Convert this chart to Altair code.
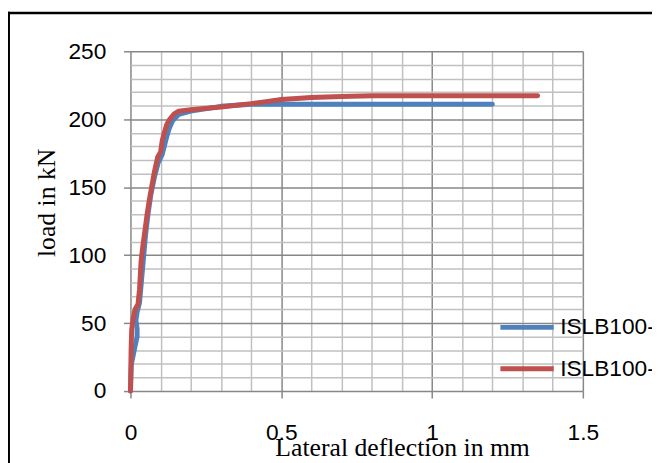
import altair as alt
import pandas as pd

# ---- data ----
series_names = ["ISLB100-1", "ISLB100-2"]
series_colors = ["#4f81bd", "#c0504d"]

blue_x = [0, 0.003, 0.008, 0.015, 0.022, 0.022, 0.018, 0.022, 0.03, 0.036, 0.042,
          0.05, 0.058, 0.068, 0.08, 0.092, 0.105, 0.112, 0.12, 0.128, 0.14, 0.16,
          0.2, 0.3, 0.4, 0.5, 0.7, 1.0, 1.2]
blue_y = [0, 20, 25, 33, 40, 46, 52, 58, 65, 80, 95,
          115, 130, 145, 158, 168, 174, 180, 187, 193, 199, 203.5,
          206, 209.5, 211, 211, 211, 211, 211]

red_x = [0, 0.002, 0.004, 0.008, 0.015, 0.025, 0.03, 0.035, 0.04, 0.048, 0.055,
         0.062, 0.07, 0.08, 0.09, 0.1, 0.105, 0.112, 0.12, 0.13, 0.145, 0.16,
         0.2, 0.3, 0.4, 0.45, 0.5, 0.6, 0.7, 0.8, 1.0, 1.2, 1.35]
red_y = [0, 30, 45, 52, 60, 64, 75, 95, 105, 118, 130,
         140, 150, 162, 172, 176, 184, 190, 196, 200, 204, 206,
         207, 209, 211.5, 213, 214.5, 216, 216.8, 217.3, 217.3, 217.3, 217.3]

x_grid = [round(i * 0.1, 1) for i in range(16)]
y_grid = list(range(0, 251, 10))

rows = []
for name, xs, ys in [(series_names[0], blue_x, blue_y), (series_names[1], red_x, red_y)]:
    for i, (a, b) in enumerate(zip(xs, ys)):
        rows.append({"series": name, "i": i, "x": a, "y": b})
df = pd.DataFrame(rows)

x_major = "abs(datum.value*2 - round(datum.value*2)) < 0.001"
y_major = "datum.value % 50 == 0"
MAJOR = "#878787"
MINOR = "#c0c0c0"

x_axis = alt.Axis(
    values=x_grid, format="~g",
    title="Lateral deflection in mm",
    titleFont="Liberation Serif", titleFontSize=26, titleFontWeight="normal",
    titleColor="black", titleX=275, titleY=65, titleBaseline="alphabetic",
    titleAlign="center",
    labelFont="Liberation Sans", labelFontSize=23, labelColor="black",
    labelPadding=24, labelExpr=f"({x_major}) ? datum.label : ''",
    labelOverlap=False, labelFlush=False,
    domain=False, tickSize=7, tickWidth=1.5, tickColor=MAJOR,
    tickOpacity={"condition": {"test": x_major, "value": 1}, "value": 0},
    grid=True, gridWidth=1.5,
    gridColor={"condition": {"test": x_major, "value": MAJOR}, "value": MINOR},
)
y_axis = alt.Axis(
    values=y_grid,
    title="load in kN",
    titleFont="Liberation Serif", titleFontSize=26, titleFontWeight="normal",
    titleColor="black", titleX=-77, titleY=153, titleAngle=270,
    titleBaseline="alphabetic", titleAlign="center",
    labelFont="Liberation Sans", labelFontSize=23, labelColor="black",
    labelPadding=18, labelExpr=f"({y_major}) ? datum.label : ''",
    labelOverlap=False, labelFlush=False,
    domain=False, tickSize=7, tickWidth=1.5, tickColor=MAJOR,
    tickOpacity={"condition": {"test": y_major, "value": 1}, "value": 0},
    grid=True, gridWidth=1.5,
    gridColor={"condition": {"test": y_major, "value": MAJOR}, "value": MINOR},
)

lines = alt.Chart(df).mark_line(strokeWidth=5, strokeCap="round", strokeJoin="round").encode(
    x=alt.X("x:Q", scale=alt.Scale(domain=[0, 1.5], nice=False, zero=False), axis=x_axis),
    y=alt.Y("y:Q", scale=alt.Scale(domain=[0, 250], nice=False), axis=y_axis),
    color=alt.Color(
        "series:N",
        scale=alt.Scale(domain=series_names, range=series_colors),
        legend=alt.Legend(
            title=None, orient="none", legendX=372, legendY=250,
            symbolType="stroke", symbolSize=2916, symbolStrokeWidth=5,
            labelFont="Liberation Sans", labelFontSize=23, labelColor="black",
            labelOffset=4, rowPadding=0, padding=0,
        ),
    ),
    order="i:Q",
)

one = pd.DataFrame({"a": [0]})
frame_left = alt.Chart(one).mark_rule(color="black", strokeWidth=4).encode(
    x=alt.value(-124), y=alt.value(-40), y2=alt.value(420)
)
frame_top = alt.Chart(one).mark_rule(color="black", strokeWidth=2.5).encode(
    x=alt.value(-126), x2=alt.value(530), y=alt.value(-38.7)
)

chart = alt.layer(lines, frame_left, frame_top).properties(
    width=458, height=344,
    padding={"left": 124, "top": 41, "right": 70, "bottom": 70},
    autosize=alt.AutoSizeParams(type="none"),
    background="white",
).configure_view(stroke=None)

chart.save("out.html", embed_options={"renderer": "svg", "actions": False})
